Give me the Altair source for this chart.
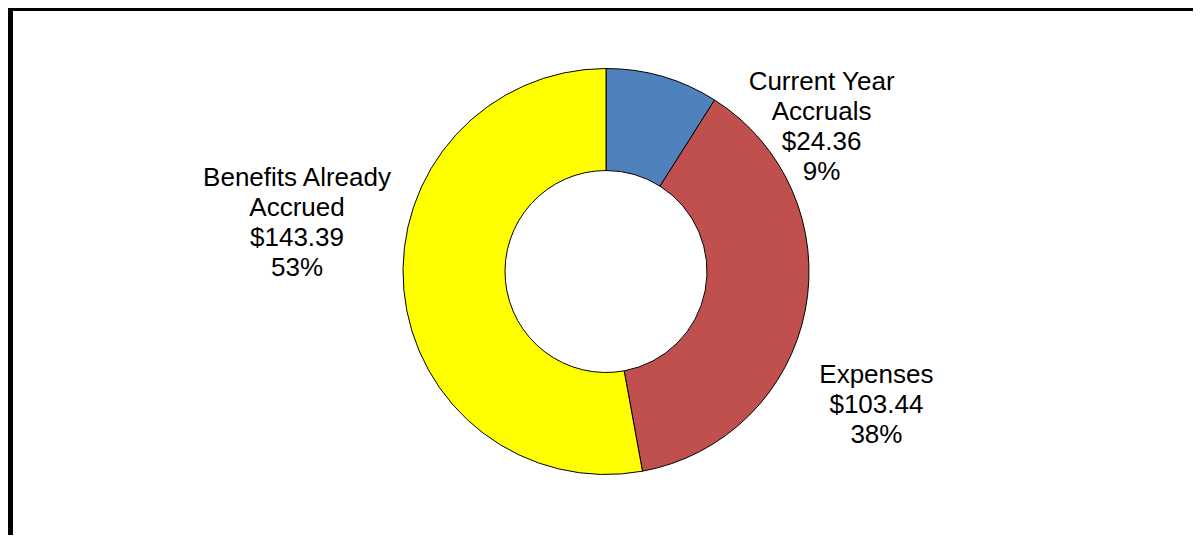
import altair as alt
import pandas as pd

categories = ["Current Year Accruals", "Expenses", "Benefits Already Accrued"]
label_names = ["Current Year\nAccruals", "Expenses", "Benefits Already\nAccrued"]
values = [24.36, 103.44, 143.39]
colors = ["#4F81BD", "#C0504D", "#FFFF00"]
label_offsets = [(146, 51), (25, 56), (-60, -116)]

df = pd.DataFrame({"idx": list(range(len(values))), "category": categories,
                   "name": label_names, "value": values})

base = alt.Chart(df).transform_joinaggregate(
    total="sum(value)"
).transform_window(
    cum="sum(value)", sort=[alt.SortField("idx")], frame=[None, 0]
).transform_calculate(
    start="2*PI*(datum.cum - datum.value)/datum.total",
    end="2*PI*datum.cum/datum.total",
    mid="2*PI*(datum.cum - datum.value/2)/datum.total",
    label="datum.name + '\\n$' + format(datum.value, '.2f') + '\\n' + format(datum.value/datum.total, '.0%')",
)

arcs = base.mark_arc(outerRadius=203, innerRadius=101, stroke="black", strokeWidth=1).encode(
    theta=alt.Theta("start:Q", scale=None),
    theta2=alt.Theta2("end:Q"),
    color=alt.Color("category:N", scale=alt.Scale(domain=categories, range=colors), legend=None),
)

texts = []
for i, (ddx, ddy) in enumerate(label_offsets):
    texts.append(
        base.transform_filter(f"datum.idx == {i}").mark_text(
            radius=250, dx=ddx, dy=ddy, fontSize=26, lineHeight=30,
            font="Liberation Sans", lineBreak="\n", align="center",
            baseline="middle", color="black",
        ).encode(theta=alt.Theta("mid:Q", scale=None), text="label:N")
    )

frame_df = pd.DataFrame({"a": [0]})
left_line = alt.Chart(frame_df).mark_rule(color="black", strokeWidth=5).encode(
    x=alt.value(-8.5), y=alt.value(0), y2=alt.value(527)
)
top_line = alt.Chart(frame_df).mark_rule(color="black", strokeWidth=3).encode(
    x=alt.value(-11), x2=alt.value(1174), y=alt.value(1.5)
)

chart = alt.layer(arcs, *texts, left_line, top_line).properties(
    width=1174, height=527,
    padding={"left": 11, "top": 0, "right": 0, "bottom": 0},
    autosize="none", background="white",
).configure_view(stroke=None)

chart.save("out.html", embed_options={"renderer": "svg", "actions": False})
